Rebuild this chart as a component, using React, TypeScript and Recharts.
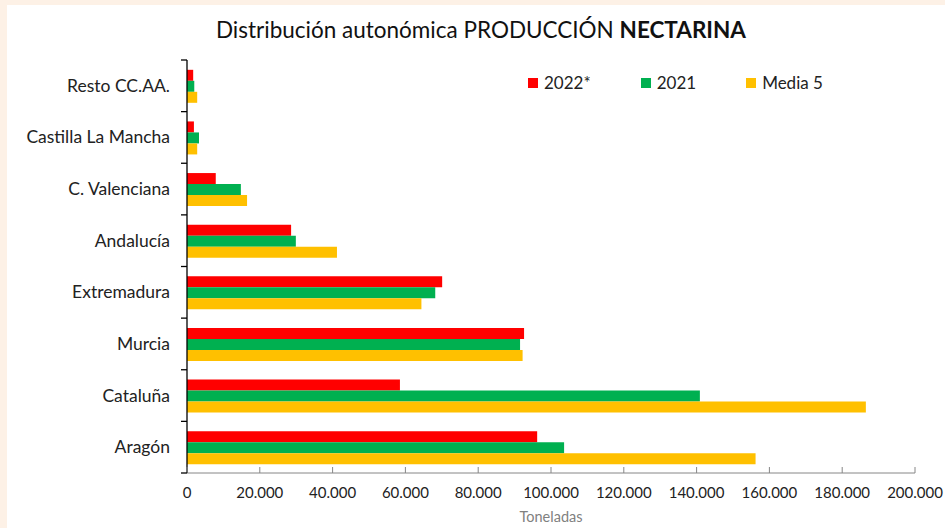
import React from 'react';
import { BarChart, Bar, XAxis, YAxis } from 'recharts';

const categories = ['Resto CC.AA.', 'Castilla La Mancha', 'C. Valenciana', 'Andalucía', 'Extremadura', 'Murcia', 'Cataluña', 'Aragón'];
const serie2022 = [1700, 1900, 7900, 28600, 70100, 92600, 58500, 96200];
const serie2021 = [2000, 3300, 14800, 29900, 68200, 91500, 140900, 103600];
const media5 = [2800, 2800, 16500, 41200, 64400, 92200, 186500, 156200];
const xTicks = [0, 20000, 40000, 60000, 80000, 100000, 120000, 140000, 160000, 180000, 200000];
const seriesNames = ['2022*', '2021', 'Media 5'];
const seriesColors = ['#ff0000', '#00b050', '#ffc000'];

const data = categories.map((c, i) => ({
  name: c,
  s2022: serie2022[i],
  s2021: serie2021[i],
  media5: media5[i],
}));

const W = 945;
const H = 528;
const M = { top: 60, right: 30, bottom: 0, left: 0 };
const X_AXIS_H = 55;
const Y_AXIS_W = 187;
const PLOT_H = H - M.top - M.bottom - X_AXIS_H;
const BAND = PLOT_H / categories.length;
const FONT = 'Lato, "Open Sans", sans-serif';

const fmt = (v: number) => String(v).replace(/\B(?=(\d{3})+(?!\d))/g, '.');

const YTick = (props: any) => {
  const { x, y, payload, index } = props;
  const top = y - BAND / 2;
  const bottom = y + BAND / 2;
  return (
    <g>
      <line x1={x - 6} y1={top} x2={x} y2={top} stroke="#000" strokeWidth={1.3} />
      {index === categories.length - 1 && (
        <line x1={x - 6} y1={bottom} x2={x} y2={bottom} stroke="#000" strokeWidth={1.3} />
      )}
      <text x={x - 17} y={y} dy={6} textAnchor="end" fontSize={17.5} fill="#222" fontFamily={FONT}>
        {payload.value}
      </text>
    </g>
  );
};

const XTick = (props: any) => {
  const { x, y, payload } = props;
  return (
    <g>
      <line x1={x} y1={y} x2={x} y2={y - 6} stroke="#868686" strokeWidth={1} />
      <text x={x} y={y + 25} textAnchor="middle" fontSize={15} fill="#222" fontFamily={FONT}>
        {fmt(payload.value)}
      </text>
    </g>
  );
};

export default function App() {
  return (
    <div style={{ position: 'absolute', left: 0, top: 0, width: W, height: H, background: '#fdf1e6' }}>
      <div style={{ position: 'absolute', left: 7, top: 5, width: W - 7, height: H - 5, background: '#ffffff' }} />
      <div
        style={{
          position: 'absolute',
          left: 0,
          width: W,
          top: 16,
          textAlign: 'center',
          paddingLeft: 17,
          boxSizing: 'border-box',
          fontFamily: FONT,
          fontSize: 22.5,
          color: '#111',
          whiteSpace: 'nowrap',
        }}
      >
        Distribución autonómica PRODUCCIÓN <b>NECTARINA</b>
      </div>
      <div
        style={{
          position: 'absolute',
          left: 528,
          top: 72,
          display: 'flex',
          alignItems: 'center',
          fontFamily: FONT,
          fontSize: 17,
          color: '#222',
        }}
      >
        {seriesNames.map((n, i) => (
          <div key={n} style={{ display: 'flex', alignItems: 'center', marginRight: 50 }}>
            <span style={{ display: 'inline-block', width: 10, height: 10, background: seriesColors[i], marginRight: 6 }} />
            <span>{n}</span>
          </div>
        ))}
      </div>
      <div style={{ position: 'absolute', left: 0, top: 0 }}>
        <BarChart
          width={W}
          height={H}
          data={data}
          layout="vertical"
          margin={M}
          barCategoryGap="19%"
          barGap={0}
        >
          <XAxis
            type="number"
            domain={[0, 200000]}
            ticks={xTicks}
            interval={0}
            axisLine={{ stroke: '#868686' }}
            tickLine={false}
            tickSize={0}
            tickMargin={0}
            tick={<XTick />}
            height={X_AXIS_H}
          />
          <YAxis
            type="category"
            dataKey="name"
            width={Y_AXIS_W}
            interval={0}
            axisLine={{ stroke: '#000', strokeWidth: 1.3 }}
            tickLine={false}
            tickSize={0}
            tickMargin={0}
            tick={<YTick />}
          />
          <Bar dataKey="s2022" name={seriesNames[0]} fill={seriesColors[0]} isAnimationActive={false} />
          <Bar dataKey="s2021" name={seriesNames[1]} fill={seriesColors[1]} isAnimationActive={false} />
          <Bar dataKey="media5" name={seriesNames[2]} fill={seriesColors[2]} isAnimationActive={false} />
        </BarChart>
      </div>
      <div
        style={{
          position: 'absolute',
          left: 451,
          width: 200,
          top: 508,
          textAlign: 'center',
          fontFamily: FONT,
          fontSize: 14.5,
          color: '#808080',
        }}
      >
        Toneladas
      </div>
    </div>
  );
}
